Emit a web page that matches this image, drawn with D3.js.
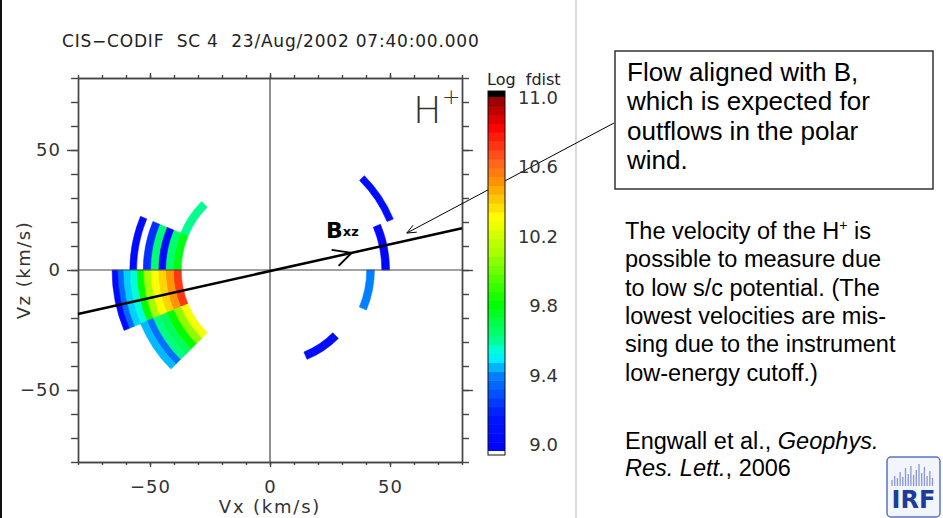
<html>
<head>
<script src="https://cdn.jsdelivr.net/npm/d3@7"></script>
<style>
  body { margin: 0; background: #fff; }
  text { font-family: "DejaVu Sans", sans-serif; }
  .slide { font-family: "Liberation Sans", Arial, sans-serif; fill: #000; }
</style>
</head>
<body>
<div id="chart"></div>
<script>
// ---------------- data ----------------
// radial (speed) bin edges, km/s
const radialEdges = [37, 40.3, 43.5, 46.6, 49.8, 52.8, 55.6, 58.4, 61.2, 63.5, 65.8];
const sectorWidth = 22.5;   // angular bin, degrees

// log fdist per radial bin (inner -> outer), one array per angular sector
// angles in degrees, counter-clockwise from +Vx
const sector135 = [9.63];                                                   // 135 .. 157.5
const sector157 = [9.80, 9.67, 9.08, 9.66, 9.25, null, 9.08];               // 157.5 .. 180
const sector180 = [10.72, 10.52, 10.40, 10.31, 10.12, 9.83, 9.57, 9.50, 9.38, 9.08]; // 180 .. 202.5
const sector202 = [10.30, 10.08, 9.83, 9.70, 9.64, 9.40, 9.48];             // 202.5 .. 225
// single cells of the second population: [start angle, radial bin, log fdist]
const rightCells = [[22.5, 5, 9.10], [0, 3, 9.05], [-22.5, 1, 9.43], [-67.5, 0, 9.10]];

// colour table
const cbStops  = [9.0, 9.2, 9.43, 9.54, 9.64, 9.83, 10.13, 10.32, 10.51, 10.64, 10.83, 11.0];
const cbColors = ["#0000ff", "#0018ff", "#0080ff", "#00ffff", "#00ff80", "#00ff00",
                  "#aaff00", "#ffff00", "#ff9900", "#ff6020", "#ff0000", "#8b0000"];
const cbTicks  = [9.0, 9.4, 9.8, 10.2, 10.6, 11.0];

const axisTicks  = [-50, 0, 50];
const minorTicks = d3.range(-80, 81, 10);

// magnetic field direction line and the annotation pointer
const bLine = [[-80, -18.3], [80, 17.4]];
const bArrowVx = 34;
const pointerTip = [57, 15.4];

// ---------------- drawing ----------------
const W = 943, H = 518;
const svg = d3.select("#chart").append("svg").attr("width", W).attr("height", H);

// slide frame bits
svg.append("rect").attr("x", 0).attr("y", 0).attr("width", 2).attr("height", H).attr("fill", "#111");
svg.append("line").attr("x1", 576).attr("x2", 576).attr("y1", 0).attr("y2", H)
    .attr("stroke", "#cfcfcf").attr("stroke-width", 1.5);

const x = d3.scaleLinear().domain([-80, 80]).range([78, 462]);
const y = d3.scaleLinear().domain([-80, 80]).range([462, 78]);

const color = d3.scaleLinear().domain(cbStops).range(cbColors).clamp(true);

// title
svg.append("text").attr("x", 62).attr("y", 47)
    .attr("font-size", 17).attr("fill", "#222").attr("letter-spacing", 0.8).style("white-space", "pre")
    .text("CIS\u2212CODIF  SC 4  23/Aug/2002 07:40:00.000");

// build cells
const cells = [];
function addSector(a0, values) {
  values.forEach((v, i) => { if (v !== null) cells.push({a0: a0, bin: i, v: v}); });
}
addSector(135, sector135);
addSector(157.5, sector157);
addSector(180, sector180);
addSector(202.5, sector202);
rightCells.forEach(c => cells.push({a0: c[0], bin: c[1], v: c[2]}));

const rad = d => x(d) - x(0);
const arc = d3.arc()
  .innerRadius(d => rad(radialEdges[d.bin]))
  .outerRadius(d => rad(radialEdges[d.bin + 1]))
  .startAngle(d => (90 - d.a0 - sectorWidth) * Math.PI / 180)
  .endAngle(d => (90 - d.a0) * Math.PI / 180);

svg.append("g")
    .attr("transform", `translate(${x(0)},${y(0)})`)
  .selectAll("path")
  .data(cells)
  .enter().append("path")
    .attr("d", arc)
    .attr("fill", d => color(d.v))
    .attr("stroke", d => color(d.v))
    .attr("stroke-width", 0.6);

// zero lines
svg.append("line").attr("x1", x(0)).attr("x2", x(0)).attr("y1", y(80)).attr("y2", y(-80))
    .attr("stroke", "#222").attr("stroke-width", 1);
svg.append("line").attr("x1", x(-80)).attr("x2", x(80)).attr("y1", y(0)).attr("y2", y(0))
    .attr("stroke", "#444").attr("stroke-width", 1.2);

// axes
function styleAxis(g) {
  g.selectAll("path, line").attr("stroke", "#444").attr("stroke-width", 1.4);
  g.selectAll("text").attr("font-size", 18).attr("fill", "#333")
    .attr("font-family", "DejaVu Sans").attr("letter-spacing", 1);
}
const fmt = d => d < 0 ? "\u2212" + Math.abs(d) : String(d);

svg.append("g").attr("transform", `translate(0,${y(-80)})`)
  .call(d3.axisBottom(x).tickValues(minorTicks).tickFormat("").tickSize(3).tickSizeOuter(0)).call(styleAxis);
svg.append("g").attr("transform", `translate(0,${y(-80)})`)
  .call(d3.axisBottom(x).tickValues(axisTicks).tickFormat(fmt).tickSize(5).tickSizeOuter(0).tickPadding(13))
  .call(styleAxis);
svg.append("g").attr("transform", `translate(0,${y(80)})`)
  .call(d3.axisTop(x).tickValues(minorTicks).tickFormat("").tickSize(3).tickSizeOuter(0)).call(styleAxis);
svg.append("g").attr("transform", `translate(0,${y(80)})`)
  .call(d3.axisTop(x).tickValues(axisTicks).tickFormat("").tickSize(5).tickSizeOuter(0)).call(styleAxis);

svg.append("g").attr("transform", `translate(${x(-80)},0)`)
  .call(d3.axisLeft(y).tickValues(minorTicks).tickFormat("").tickSize(7).tickSizeOuter(0)).call(styleAxis);
svg.append("g").attr("transform", `translate(${x(-80)},0)`)
  .call(d3.axisLeft(y).tickValues(axisTicks).tickFormat(fmt).tickSize(11).tickSizeOuter(0).tickPadding(6))
  .call(styleAxis);
svg.append("g").attr("transform", `translate(${x(80)},0)`)
  .call(d3.axisRight(y).tickValues(minorTicks).tickFormat("").tickSize(7).tickSizeOuter(0)).call(styleAxis);
svg.append("g").attr("transform", `translate(${x(80)},0)`)
  .call(d3.axisRight(y).tickValues(axisTicks).tickFormat("").tickSize(11).tickSizeOuter(0)).call(styleAxis);

// axis titles
svg.append("text").attr("x", x(0)).attr("y", 513).attr("text-anchor", "middle")
    .attr("font-size", 18).attr("fill", "#333").attr("letter-spacing", 1.8).style("white-space", "pre")
    .text("Vx (km/s)");
svg.append("text").attr("transform", `translate(30,${y(0)}) rotate(-90)`).attr("text-anchor", "middle")
    .attr("font-size", 18).attr("fill", "#333").attr("letter-spacing", 1.5).style("white-space", "pre")
    .text("Vz (km/s)");

// species label
svg.append("text").attr("x", 413).attr("y", 123).attr("font-size", 38).attr("font-weight", 200)
    .attr("fill", "#333").text("H");
svg.append("text").attr("x", 442).attr("y", 104).attr("font-size", 22).attr("font-weight", 200)
    .attr("fill", "#333").text("+");

// B line with arrow
const lineGen = d3.line().x(d => x(d[0])).y(d => y(d[1]));
svg.append("path").attr("d", lineGen(bLine)).attr("stroke", "#000").attr("stroke-width", 2.5).attr("fill", "none");
const slope = (bLine[1][1] - bLine[0][1]) / (bLine[1][0] - bLine[0][0]);
const tip = [x(bArrowVx), y(bLine[0][1] + slope * (bArrowVx - bLine[0][0]))];
svg.append("path")
    .attr("d", `M${tip[0] - 20},${tip[1] - 3}L${tip[0]},${tip[1]}L${tip[0] - 13},${tip[1] + 13}`)
    .attr("stroke", "#000").attr("stroke-width", 2).attr("fill", "none");
const bl = svg.append("text").attr("x", 326).attr("y", 238).attr("font-family", "Liberation Sans")
    .attr("font-weight", "bold").attr("fill", "#000");
bl.append("tspan").attr("font-size", 22).text("B");
bl.append("tspan").attr("font-size", 13).attr("dy", -2).text("xz");

// annotation pointer
const pt = [x(pointerTip[0]), y(pointerTip[1])];
svg.append("line").attr("x1", 614).attr("y1", 123).attr("x2", pt[0]).attr("y2", pt[1])
    .attr("stroke", "#000").attr("stroke-width", 1);
const ang = Math.atan2(pt[1] - 123, pt[0] - 614);
const ah = 10, aw = 0.4;
svg.append("path")
    .attr("d", `M${pt[0] - ah * Math.cos(ang - aw)},${pt[1] - ah * Math.sin(ang - aw)}L${pt[0]},${pt[1]}L${pt[0] - ah * Math.cos(ang + aw)},${pt[1] - ah * Math.sin(ang + aw)}`)
    .attr("stroke", "#000").attr("stroke-width", 1).attr("fill", "none");

// colour bar
const cbX = 488, cbW = 17;
const cb = d3.scaleLinear().domain([9, 11]).range([451, 97]);
const cbLab = d3.scaleLinear().domain([9, 11]).range([445, 97.5]);
const nBands = 40;
const bands = d3.range(nBands).map(i => 9 + (i + 0.5) * 2 / nBands);
svg.append("g").selectAll("rect").data(bands).enter().append("rect")
    .attr("x", cbX).attr("width", cbW)
    .attr("y", d => cb(d + 1 / nBands))
    .attr("height", d => cb(d - 1 / nBands) - cb(d + 1 / nBands) + 0.5)
    .attr("fill", d => color(d));
svg.append("rect").attr("x", cbX).attr("y", 91).attr("width", cbW).attr("height", cb(11) - 91).attr("fill", "#000");
svg.append("rect").attr("x", cbX).attr("y", cb(9)).attr("width", cbW).attr("height", 4).attr("fill", "#fff");
svg.append("rect").attr("x", cbX).attr("y", 91).attr("width", cbW).attr("height", cb(9) + 4 - 91)
    .attr("fill", "none").attr("stroke", "#111").attr("stroke-width", 1);
svg.append("g").selectAll("text").data(cbTicks).enter().append("text")
    .attr("x", 558).attr("y", d => cbLab(d)).attr("dy", "0.36em").attr("text-anchor", "end")
    .attr("font-size", 18).attr("fill", "#333").text(d => d.toFixed(1));
svg.append("text").attr("x", 487).attr("y", 85).attr("font-size", 16).attr("fill", "#222")
    .style("white-space", "pre").text("Log  fdist");

// text box
svg.append("rect").attr("x", 615).attr("y", 51).attr("width", 318).attr("height", 138)
    .attr("fill", "#fff").attr("stroke", "#333").attr("stroke-width", 1.5);
const box1 = ["Flow aligned with B,", "which is expected for", "outflows in the polar", "wind."];
svg.append("g").selectAll("text").data(box1).enter().append("text").attr("class", "slide")
    .attr("x", 627).attr("y", (d, i) => 81 + i * 29.3).attr("font-size", 26).text(d => d);

const para = svg.append("g").attr("class", "slide");
const l0 = para.append("text").attr("class", "slide").attr("x", 625).attr("y", 239).attr("font-size", 23.5);
l0.append("tspan").text("The velocity of the H");
l0.append("tspan").attr("font-size", 14).attr("dy", -9).text("+");
l0.append("tspan").attr("dy", 9).text(" is");
const box2 = ["possible to measure due", "to low s/c potential. (The", "lowest velocities are mis-",
              "sing due to the instrument", "low-energy cutoff.)"];
para.selectAll("text.rest").data(box2).enter().append("text").attr("class", "slide rest")
    .attr("x", 625).attr("y", (d, i) => 267.3 + i * 28.3).attr("font-size", 23.5).text(d => d);

const r1 = svg.append("text").attr("class", "slide").attr("x", 625).attr("y", 449).attr("font-size", 23.5);
r1.append("tspan").text("Engwall et al., ");
r1.append("tspan").attr("font-style", "italic").text("Geophys.");
const r2 = svg.append("text").attr("class", "slide").attr("x", 625).attr("y", 476).attr("font-size", 23.5);
r2.append("tspan").attr("font-style", "italic").text("Res. Lett.");
r2.append("tspan").text(", 2006");

// IRF logo
const logo = svg.append("g");
logo.append("rect").attr("x", 887).attr("y", 457).attr("width", 53).attr("height", 60).attr("rx", 4)
    .attr("fill", "#f2f5fc").attr("stroke", "#5a74c0").attr("stroke-width", 1.5);
const spikes = [6, 10, 8, 14, 9, 18, 12, 20, 11, 16, 22, 13, 19, 10, 15, 8];
logo.selectAll("line").data(spikes).enter().append("line")
    .attr("x1", (d, i) => 892 + i * 2.7).attr("x2", (d, i) => 892 + i * 2.7)
    .attr("y1", d => 486 - d).attr("y2", 486)
    .attr("stroke", "#8a96d6").attr("stroke-width", 1.3);
logo.append("text").attr("x", 913.5).attr("y", 508).attr("text-anchor", "middle")
    .attr("font-family", "Liberation Sans").attr("font-weight", "bold").attr("font-size", 24)
    .attr("fill", "#1c3c9c").text("IRF");
</script>
</body>
</html>
